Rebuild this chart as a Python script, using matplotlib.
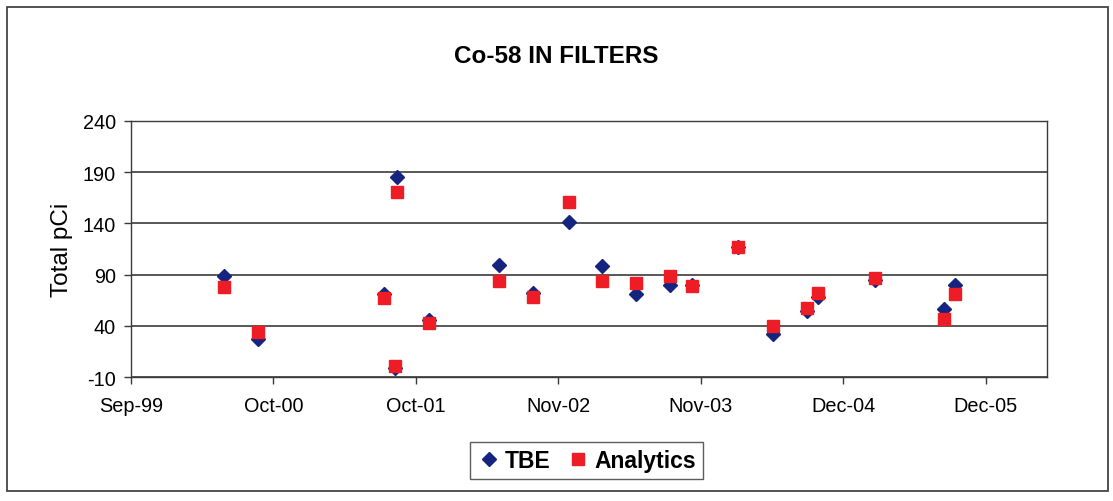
import numpy as np
import pandas as pd
import matplotlib
matplotlib.use("Agg")
import matplotlib.pyplot as plt
import matplotlib.dates as mdates
from matplotlib.patches import Rectangle

# ---- data ----
dates = ['2000-05-26', '2000-08-23', '2001-07-26', '2001-08-25', '2001-08-29',
         '2001-11-24', '2002-05-28', '2002-08-28', '2002-11-30', '2003-02-26',
         '2003-05-29', '2003-08-27', '2003-10-26', '2004-02-26', '2004-05-27',
         '2004-08-26', '2004-09-25', '2005-02-24', '2005-08-26', '2005-09-25']
tbe = [89, 27, 71, -1, 185, 46, 99, 72, 141, 98,
       71, 80, 80, 117, 32, 54, 68, 85, 56, 80]
analytics = [78, 34, 67, 1, 171, 43, 84, 68, 161, 84,
             82, 89, 79, 117, 40, 57, 72, 87, 47, 71]
series_names = ['TBE', 'Analytics']
title = 'Co-58 IN FILTERS'
ylabel = 'Total pCi'
y_ticks = [-10, 40, 90, 140, 190, 240]
x_start = '1999-09-20'
x_end = '2006-05-29'
x_tick_step_days = 380

plt.rcParams['font.family'] = ['Liberation Sans', 'DejaVu Sans']
plt.rcParams['axes.unicode_minus'] = False

fig = plt.figure(figsize=(11.13, 5.02), dpi=100)
ax = fig.add_axes([0.1177, 0.247, 0.823, 0.510])

x = pd.to_datetime(dates)
navy = '#15247e'
red = '#ee1c25'
ax.plot(x, tbe, linestyle='none', marker='D', markersize=7.0, color=navy,
        markeredgecolor=navy, label=series_names[0], zorder=3)
ax.plot(x, analytics, linestyle='none', marker='s', markersize=9.3, color=red,
        markeredgecolor=red, label=series_names[1], zorder=4)

start = pd.Timestamp(x_start)
xticks = [start + pd.Timedelta(days=int(k * x_tick_step_days)) for k in range(7)]
ax.set_xlim(start, pd.Timestamp(x_end))
ax.set_xticks(xticks)
ax.xaxis.set_major_formatter(mdates.DateFormatter('%b-%y'))

ax.set_ylim(y_ticks[0], y_ticks[-1])
ax.set_yticks(y_ticks)
ax.yaxis.grid(True, color='#2a2a2a', linewidth=1.1)
ax.set_axisbelow(True)

for s in ax.spines.values():
    s.set_color('#3a3a3a')
    s.set_linewidth(1.0)

ax.tick_params(axis='both', labelsize=14.3, colors='black', direction='out',
               length=5, width=1, color='#3a3a3a')
ax.tick_params(axis='x', pad=9)
ax.tick_params(axis='y', pad=6)

ax.set_ylabel(ylabel, fontsize=17.5, labelpad=7)

fig.text(0.5, 0.888, title, ha='center', va='center', fontsize=17.5,
         fontweight='bold')

leg = fig.legend(loc='center', bbox_to_anchor=(0.527, 0.08), ncol=2,
                 prop={'size': 16.5, 'weight': 'bold'}, frameon=True,
                 fancybox=False, handletextpad=0.2, columnspacing=0.7,
                 handlelength=1.0, borderpad=0.3, markerscale=1.0)
leg.get_frame().set_edgecolor('#333333')
leg.get_frame().set_linewidth(1.0)

fig.patches.append(Rectangle((0.0065, 0.02), 0.989, 0.965, transform=fig.transFigure,
                             fill=False, edgecolor='#444444', linewidth=1.3))

fig.savefig('out.png', dpi=100)
